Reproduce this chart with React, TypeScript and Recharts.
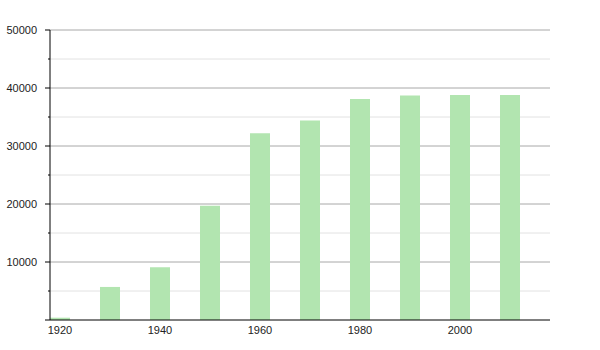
import React from "react";
import { BarChart, Bar, XAxis, YAxis, CartesianGrid } from "recharts";

const years = [1920, 1930, 1940, 1950, 1960, 1970, 1980, 1990, 2000, 2010];
const population = [400, 5700, 9100, 19700, 32200, 34400, 38100, 38700, 38800, 38800];
const xTicks = [1920, 1940, 1960, 1980, 2000];
const yAllTicks = [0, 5000, 10000, 15000, 20000, 25000, 30000, 35000, 40000, 45000, 50000];

const data = years.map((y, i) => ({ year: y, value: population[i] }));

const FONT = "'Liberation Sans', Arial, sans-serif";

const YTick = (props: any) => {
  const { x, y, payload } = props;
  const v = payload.value as number;
  const major = v % 10000 === 0;
  return (
    <g>
      <line x1={x - (major ? 5 : 2)} x2={x} y1={y} y2={y} stroke="#000" strokeWidth={1} />
      {major && v !== 0 ? (
        <text x={x - 13} y={y} dy="0.4em" textAnchor="end" fontSize={11} fontFamily={FONT} fill="#222">
          {v}
        </text>
      ) : null}
    </g>
  );
};

const XTick = (props: any) => {
  const { x, y, payload } = props;
  return (
    <text x={x} y={y} dy="0.75em" textAnchor="middle" fontSize={11} fontFamily={FONT} fill="#222">
      {payload.value}
    </text>
  );
};

const GridLine = (props: any) => {
  const { x1, x2, y1, y2, index } = props;
  const major = index % 2 === 0;
  if (index === 0) return <g key={props.key} />;
  return (
    <line
      key={props.key}
      x1={x1}
      x2={x2}
      y1={y1}
      y2={y2}
      stroke={major ? "#a8a8a8" : "#e2e2e2"}
      strokeWidth={1}
    />
  );
};

export default function App() {
  return (
    <div style={{ position: "absolute", left: 0, top: 0, width: 600, height: 350, background: "#fff" }}>
      <BarChart width={600} height={350} data={data} margin={{ top: 30, right: 50, bottom: 0, left: 0 }}>
        <CartesianGrid vertical={false} horizontal={(p: any) => <GridLine {...p} />} />
        <XAxis
          dataKey="year"
          type="number"
          domain={[1918, 2018]}
          ticks={xTicks}
          tickLine={false}
          tickSize={0}
          tickMargin={6}
          height={30}
          axisLine={{ stroke: "#000", strokeWidth: 1 }}
          tick={<XTick />}
          interval={0}
        />
        <YAxis
          type="number"
          domain={[0, 50000]}
          ticks={yAllTicks}
          tickLine={false}
          tickSize={0}
          tickMargin={0}
          width={50}
          axisLine={{ stroke: "#000", strokeWidth: 1 }}
          tick={<YTick />}
          interval={0}
        />
        <Bar dataKey="value" fill="#b2e5b0" barSize={20} isAnimationActive={false} />
      </BarChart>
    </div>
  );
}
